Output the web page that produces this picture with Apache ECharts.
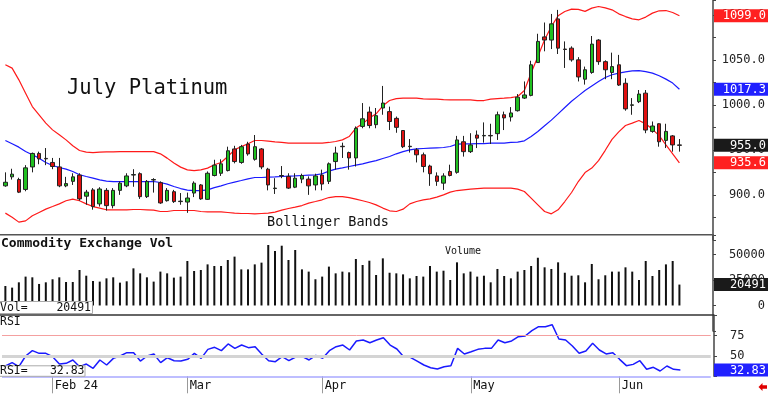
<!DOCTYPE html>
<html><head><meta charset="utf-8">
<script src="https://cdn.jsdelivr.net/npm/echarts@6/dist/echarts.min.js"></script>
<style>html,body{margin:0;padding:0;background:#fff}#c{width:768px;height:394px}</style>
</head><body><div id="c"></div>
<script>
const dates = [
'2024-01-23','2024-01-24','2024-01-25','2024-01-26','2024-01-29','2024-01-30','2024-01-31',
'2024-02-01','2024-02-02','2024-02-05','2024-02-06','2024-02-07','2024-02-08','2024-02-09','2024-02-12','2024-02-13','2024-02-14','2024-02-15','2024-02-16','2024-02-20','2024-02-21','2024-02-22','2024-02-23','2024-02-26','2024-02-27','2024-02-28','2024-02-29',
'2024-03-01','2024-03-04','2024-03-05','2024-03-06','2024-03-07','2024-03-08','2024-03-11','2024-03-12','2024-03-13','2024-03-14','2024-03-15','2024-03-18','2024-03-19','2024-03-20','2024-03-21','2024-03-22','2024-03-25','2024-03-26','2024-03-27','2024-03-28',
'2024-04-01','2024-04-02','2024-04-03','2024-04-04','2024-04-05','2024-04-08','2024-04-09','2024-04-10','2024-04-11','2024-04-12','2024-04-15','2024-04-16','2024-04-17','2024-04-18','2024-04-19','2024-04-22','2024-04-23','2024-04-24','2024-04-25','2024-04-26','2024-04-29','2024-04-30',
'2024-05-01','2024-05-02','2024-05-03','2024-05-06','2024-05-07','2024-05-08','2024-05-09','2024-05-10','2024-05-13','2024-05-14','2024-05-15','2024-05-16','2024-05-17','2024-05-20','2024-05-21','2024-05-22','2024-05-23','2024-05-24','2024-05-28','2024-05-29','2024-05-30','2024-05-31',
'2024-06-03','2024-06-04','2024-06-05','2024-06-06','2024-06-07','2024-06-10','2024-06-11','2024-06-12','2024-06-13','2024-06-14'];

const open = [910,920,917,906,931,946,940.5,936,931,910, 915,922,898.5,905.5,890,905,888,905,910,922, 923.5,898,916.5,913.5,893.5,903.5,892.5,892,902,911, 895,921.5,924,927,951,936,956.5,939.5,951,928.5, 907,921,920.5,908.5,917.5,917.5,911,922,915,937, 954,947,941,976,992,978,996.5,992.5,985,971.5, 953.5,950,944.5,932,921,913,926,925,959,948, 966.5,965.5,966,968,989,986.5,993.5,1007.5,1010.5,1047, 1075.5,1072,1095.5,1062,1063,1050,1028.5,1036,1072,1048, 1036,1044.5,1024,999.5,1003.5,1013,970.5,979,960.5,965.5, 955.5];
const close = [914,923,903,930,946,940,940,931.5,910,912.5, 920,895.5,903,887,906.5,888,905,913,921,922.5, 898,915,917,891,905,892.5,893,896.5,913,895.5, 924,933,934.5,949,937,953.5,945.5,953.5,931,911, 907.5,921.5,907.5,918.5,921.5,910,921,912,934.5,946.5, 953.5,941,974,984.5,977,988,1002,981.5,975,953.5, 954,944.5,931.5,923.5,915,921,921.5,961,948,955.5, 963,966,965.5,989,985.5,991,1008.5,1011,1044.5,1070.5, 1072,1090,1063,1061.5,1050,1031,1039,1067.5,1048,1039, 1042.5,1022,995.5,1000,1012,972,976.5,959,970.5,955.5, 955];
const low = [909,917,902,904,925,934,933,928.5,908.5,908.5, 911,893.5,889,883.5,887,882.5,885,900,908.5,909, 895.5,896.5,902.5,890,892.5,891,889,880,897.5,894.5, 894.5,920.5,921,926,935,934.5,943.5,938,928.5,905, 901,918.5,906.5,907.5,913,900,905,905,912,928, 941,928,931.5,974,974,974,989,972,969,952, 947,936,925,910,910,905.5,920.5,923.5,942.5,946.5, 952,958,956.5,961,972,981.5,992.5,1006.5,1009.5,1046.5, 1059.5,1062,1056.5,1041,1048,1026,1022.5,1034.5,1044.5,1028.5, 1028.5,1021,993.5,989,1002,968.5,969,953.5,952,948, 948];
const high = [925,929,919,933,947,948,952,941,941,920, 924,924,905.5,907.5,908.5,907.5,907.5,915,924,928.5, 925,916.5,918.5,915,907.5,905.5,902,902.5,915,912, 926,939,939.5,953.5,954.5,955.5,959,966.5,952,930, 918.5,932,924,924,923.5,920.5,923.5,928,936,953.5, 958,948,976,1002,998,996.5,1021,998,987,972, 962,952,947,933.5,925,924,933.5,965.5,965.5,968.5, 971.5,980.5,979,992.5,992.5,997.5,1012,1026,1049,1079, 1091.5,1101,1105.5,1070.5,1065,1053,1042.5,1076.5,1073,1049.5, 1058,1055.5,1029.5,1007.5,1016.5,1016.5,981.5,979.5,979,966.5, 962];

const bbUpper = [1044.5,1040.8,1027.8,1013,998.1,988.9,979.7,972.2,966.7,961.1, 954.5,949.3,947.5,947,947.5,947.8,947.8,948.1,948.1,948.1, 948.1,948.1,948.1,945.6,940.8,935.3,930.8,927.8,927,927.8, 929.7,933.4,935.9,942.6,950,953.7,956.7,960.4,960.4,959.7, 958.9,958.2,957.5,957.5,957.5,957.5,957.5,957.5,958.2,959.3, 961.1,964.8,974.2,978.9,985.3,990,998.9,1004.8,1007,1007.5, 1007.5,1007.5,1006.7,1006.4,1006.4,1005.9,1005.6,1005.6,1005.6,1005.6, 1004.8,1004.8,1006.4,1007,1007.5,1008.1,1009.3,1015.9,1035.3,1053.7, 1072.3,1087,1098.9,1103.7,1106.4,1106.1,1103.9,1107.5,1109.3,1107.8, 1105.6,1101.1,1098.1,1095.6,1094.5,1097.5,1101.9,1104.5,1104.8,1102.6, 1099.0];
const bbMid = [960.4,956.7,953,948.1,944.5,940.8,935.9,932.6,930.4,928.6, 925.9,922.3,920.4,918.6,916.7,915.3,914.8,914.8,914.8,914.8, 914.8,914.8,914.8,913.7,911.9,909.3,907,905.3,904.8,904.8, 905.6,908.1,910,912.3,914.1,915.9,917.8,919.3,919.3,919.7, 920,920.4,920.8,921.1,921.5,921.9,922.3,923.4,926.4,928.6, 930,931.5,933,934.5,936.4,938.1,940.4,942.6,945.6,948.1, 950,951.1,951.5,951.9,952.3,952.6,953.7,956.4,956.7,956.7, 957,957,957.5,957.5,957.5,958.2,958.6,960,964.8,970.4, 976.7,983,990,997,1004,1010,1016,1021,1026,1030.4, 1033.4,1035.3,1036.7,1037.8,1038.1,1037,1035.3,1032.3,1028.6,1024.2, 1017.3];
const bbLower = [879.7,875.2,869.7,871.1,876.7,880.4,884.1,887,890,893.4, 895.3,893.4,890,887,885.2,883.4,883.4,883.4,883.4,883.7, 883.7,883.4,883,881.5,881.5,882.6,882.6,882.6,882.6,881.5, 881.1,881.1,881.1,880.4,879.7,879.3,879.3,878.9,879.3,879.7, 880.8,883,884.8,886.4,888.1,890.8,892.6,894.5,897,898.1, 898.1,897,895.3,893.4,891.5,888.9,885.3,882.3,881.5,884.1, 890,892.6,894.5,895.6,897.5,900,903,904.8,905.6,906.4, 907,907.5,907.5,907.5,907.5,907.5,906.4,903.7,896.4,888.9, 881.5,878.9,883.4,892.6,902.6,914.8,924.8,929.7,938.1,949.5, 961.7,970,977,979.7,982.6,978.9,972.8,965.8,955.6,945.6, 935.6];

const volume = [19100,17500,22700,28300,27600,21100,22700,25700,27600,23000, 23000,34800,29200,24000,23400,26600,27600,22400,23700,36400, 31500,27600,23400,33200,31500,27300,28300,43600,33800,34800, 40300,38700,38700,44600,47900,35400,35400,40300,42000,59300, 53400,58600,44600,54400,35400,33200,25700,28300,38100,31500, 33200,32500,45600,39700,43900,29900,46200,32100,31500,30500, 26600,28900,28300,38700,33200,34100,25000,42300,31500,33200, 28300,29200,22700,35800,28900,26600,33200,34800,38700,46800, 37400,35800,42300,32100,29200,29600,22700,40700,25700,29600, 33200,33200,37400,33200,25000,43600,28900,34800,40300,43600, 20491];

const rsi = [37.7,41.8,36.8,50,56.6,53.3,53.3,49.2,40.1,41, 45.1,36.8,40.1,34.8,45.1,38.9,47.1,50,54.1,54.1, 43.8,50,52.5,41.8,47.9,44.2,43.8,45.9,53.3,47.1, 58.2,60.7,56.6,64.8,59.4,63.5,60.3,61.5,52.1,44.2, 43,49.2,44.2,48.8,49.2,45.1,50.8,47.1,56.6,61.5, 63.5,57.4,68.5,69.7,66.4,69.7,72.5,63.5,58.6,49.2, 48.4,43.8,38.9,35.6,34,36.8,38.1,59.4,52.5,55.3, 58.2,59.4,59.4,69.7,66.4,68.5,73.8,74.6,81.2,86.1, 86.1,88.6,70.9,69.7,62.3,53.3,56.2,65.6,57.4,52.5, 54.1,45.9,38.1,39.7,44.2,33.6,36.1,31.5,37.7,33.6, 32.83];

const monthTickDates = ['2024-02-01','2024-03-01','2024-04-01','2024-05-01','2024-06-03'];
const monthTickLabels = ['Feb 24','Mar','Apr','May','Jun'];
const priceLabelValues = [900,950,1000,1050,1100];
const volLabelValues = [0,25000,50000];
const rsiLabelValues = [50,75];

const MONO = '"DejaVu Sans Mono", monospace';
const cats = dates.concat(['','','','']);
const candles = open.map((o,i)=>[o, close[i], low[i], high[i]]);

const chart = echarts.init(document.getElementById('c'), null, {renderer:'canvas', width:768, height:394});
const gridW = 708.75;
const xBase = {type:'category', data:cats, boundaryGap:true, show:false};
const yLabelBase = {fontFamily:MONO, fontSize:12, color:'#222'};

chart.setOption({
  animation:false,
  backgroundColor:'#fff',
  grid:[
    {left:2, top:0, width:gridW, height:239.85},
    {left:2, top:235, width:gridW, height:95.98},
    {left:2, top:315, width:gridW, height:61.3}
  ],
  xAxis:[
    Object.assign({gridIndex:0}, xBase),
    Object.assign({gridIndex:1}, xBase),
    {gridIndex:2, type:'category', data:cats, boundaryGap:true,
     axisLine:{show:false},
     axisTick:{show:true, alignWithLabel:true, length:17, interval:(i,v)=>monthTickDates.includes(v), lineStyle:{color:'#999', width:1}},
     axisLabel:{interval:(i,v)=>monthTickDates.includes(v), formatter:(v)=>{const k=monthTickDates.indexOf(v); return k>=0?monthTickLabels[k]:'';},
       align:'left', padding:[0,0,0,2], margin:4, fontFamily:MONO, fontSize:12, color:'#111'}}
  ],
  yAxis:[
    {gridIndex:0, type:'value', position:'right', offset:3.25, min:850, max:1116.5, interval:25,
     splitLine:{show:false}, axisLine:{show:true, lineStyle:{color:'#444', width:1.5}},
     axisTick:{show:true, length:3, lineStyle:{color:'#444'}},
     axisLabel:Object.assign({align:'right', margin:52, formatter:(v)=>priceLabelValues.includes(v)?v.toFixed(1):''}, yLabelBase)},
    {gridIndex:1, type:'value', position:'right', offset:3.25, min:-25000, max:69100, interval:25000,
     splitLine:{show:false}, axisLine:{show:true, lineStyle:{color:'#444', width:1.5}},
     axisTick:{show:true, length:3, lineStyle:{color:'#444'}},
     axisLabel:Object.assign({align:'right', margin:52, formatter:(v)=>volLabelValues.includes(v)?String(v):''}, yLabelBase)},
    {gridIndex:2, type:'value', position:'right', offset:3.25, min:25, max:100.5, interval:25,
     splitLine:{show:false}, axisLine:{show:true, lineStyle:{color:'#444', width:1.5}},
     axisTick:{show:true, length:3, lineStyle:{color:'#444'}},
     axisLabel:Object.assign({align:'left', margin:16, formatter:(v)=>rsiLabelValues.includes(v)?String(v):''}, yLabelBase)}
  ],
  series:[
    {type:'line', name:'upper', xAxisIndex:0, yAxisIndex:0, data:bbUpper, showSymbol:false, lineStyle:{color:'#ff1a1a', width:1.2}, z:2},
    {type:'line', name:'mid', xAxisIndex:0, yAxisIndex:0, data:bbMid, showSymbol:false, lineStyle:{color:'#1a1aff', width:1.2}, z:2},
    {type:'line', name:'lower', xAxisIndex:0, yAxisIndex:0, data:bbLower, showSymbol:false, lineStyle:{color:'#ff1a1a', width:1.2}, z:2},
    {type:'candlestick', xAxisIndex:0, yAxisIndex:0, data:candles, barWidth:4, z:3,
     itemStyle:{color:'#20c020', color0:'#e01010', borderColor:'#222', borderColor0:'#222', borderWidth:1}},
    {type:'bar', xAxisIndex:1, yAxisIndex:1, data:volume, barWidth:2, itemStyle:{color:'#111'}},
    {type:'line', xAxisIndex:2, yAxisIndex:2, data:rsi, showSymbol:false, lineStyle:{color:'#1a1aff', width:1.5}, z:3,
     markLine:{silent:true, symbol:'none', label:{show:false},
       data:[{yAxis:75, lineStyle:{color:'#f4a0a0', width:1, type:'solid'}},
             {yAxis:50, lineStyle:{color:'#d4d4d4', width:3, type:'solid'}},
             {yAxis:25, lineStyle:{color:'#a8a8ff', width:1.5, type:'solid'}}]}}
  ]
});

function txt(x, y, text, font, fill, align){
  return {type:'text', x:x, y:y, z:200, silent:true,
    style:{text:text, font:font, fill:fill||'#111', align:align||'left', textAlign:align||'left', verticalAlign:'middle', textVerticalAlign:'middle'}};
}
function valBox(y, text, bg){
  return [
    {type:'rect', z:190, silent:true, shape:{x:714, y:y-6.5, width:54, height:13}, style:{fill:bg}},
    txt(766, y+0.5, text, '12px '+MONO, '#fff', 'right')
  ];
}
const last = dates.length-1;
const py = (idx, v) => chart.convertToPixel({yAxisIndex:idx}, v);
let g = [];
g.push(txt(67, 89, 'July Platinum', '20.5px '+MONO, '#111'));
g.push(txt(267, 222, 'Bollinger Bands', '13.5px '+MONO, '#111'));
g.push(txt(1, 244, 'Commodity Exchange Vol', 'bold 13px '+MONO, '#111'));
g.push(txt(445, 251, 'Volume', '10px '+MONO, '#111'));
g.push(txt(0, 322.5, 'RSI', '11.5px '+MONO, '#111'));
g.push({type:'line', z:150, silent:true, shape:{x1:0, y1:234.8, x2:714, y2:234.8}, style:{stroke:'#555', lineWidth:1.5}});
g.push({type:'line', z:150, silent:true, shape:{x1:0, y1:315, x2:714, y2:315}, style:{stroke:'#333', lineWidth:1.5}});
g.push({type:'rect', z:180, silent:true, shape:{x:-1, y:301.5, width:93.5, height:12}, style:{fill:'#fff', stroke:'#aaa', lineWidth:1}});
g.push(txt(0, 307.8, 'Vol=', '11.5px '+MONO, '#111'));
g.push(txt(91, 307.8, String(volume[last]), '11.5px '+MONO, '#111', 'right'));
g.push({type:'rect', z:180, silent:true, shape:{x:-1, y:365.8, width:86, height:10.5}, style:{fill:'#fff', stroke:'#aaa', lineWidth:1}});
g.push(txt(0, 371.5, 'RSI=', '11.5px '+MONO, '#111'));
g.push(txt(84.5, 371.5, rsi[last].toFixed(2), '11.5px '+MONO, '#111', 'right'));
g = g.concat(valBox(py(0, bbUpper[last]), bbUpper[last].toFixed(1), '#ff2020'));
g = g.concat(valBox(py(0, bbMid[last]), bbMid[last].toFixed(1), '#2020ff'));
g = g.concat(valBox(py(0, close[last]), close[last].toFixed(1), '#1a1a1a'));
g = g.concat(valBox(py(0, bbLower[last]), bbLower[last].toFixed(1), '#ff2020'));
g = g.concat(valBox(py(1, volume[last]), String(volume[last]), '#1a1a1a'));
g = g.concat(valBox(py(2, rsi[last]), rsi[last].toFixed(2), '#2020ff'));
g.push({type:'polygon', z:200, silent:true, shape:{points:[[758.5,387],[762.5,383],[762.5,385.3],[767,385.3],[767,388.7],[762.5,388.7],[762.5,391]]}, style:{fill:'#e00000'}});
chart.setOption({graphic:g});
</script></body></html>
